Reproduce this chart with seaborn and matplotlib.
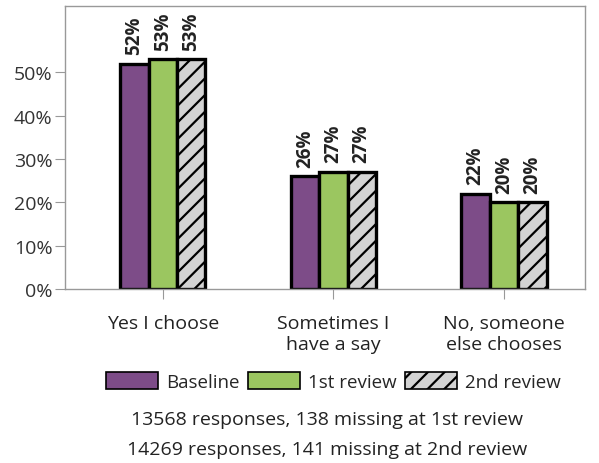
import matplotlib
matplotlib.use("Agg")
import matplotlib.pyplot as plt
import seaborn as sns
import pandas as pd
from matplotlib.patches import Patch

categories = ["Yes I choose", "Sometimes I\nhave a say", "No, someone\nelse chooses"]
series = ["Baseline", "1st review", "2nd review"]
baseline = [52, 26, 22]
review1 = [53, 27, 20]
review2 = [53, 27, 20]
yticks = [0, 10, 20, 30, 40, 50]
notes = ["13568 responses, 138 missing at 1st review",
         "14269 responses, 141 missing at 2nd review"]

colors = ["#7d4c88", "#9bc660", "#d3d3d3"]
hatches = ["", "", "//"]

rows = []
for s, vals in zip(series, [baseline, review1, review2]):
    for c, v in zip(categories, vals):
        rows.append({"cat": c, "series": s, "val": v})
df = pd.DataFrame(rows)

sns.set_style("white")
plt.rcParams['font.family'] = ['Open Sans', 'DejaVu Sans']
plt.rcParams['hatch.linewidth'] = 1.6

fig = plt.figure(figsize=(5.99, 4.64), dpi=100)
ax = fig.add_axes([0.1085, 0.375, 0.868, 0.61])

sns.barplot(data=df, x="cat", y="val", hue="series", order=categories,
            hue_order=series, palette=colors, width=0.5, gap=0,
            edgecolor="black", linewidth=2.4, saturation=1, ax=ax, legend=False)

for i, cont in enumerate(ax.containers):
    for bar in cont:
        bar.set_hatch(hatches[i])
    ax.bar_label(cont, labels=[f"{int(v)}%" for v in cont.datavalues],
                 rotation=90, padding=7, fontsize=13.5, fontweight="bold",
                 color="#222222")

ax.set_ylim(0, 65.3)
ax.set_xlim(-0.573, 2.475)
ax.set_yticks(yticks)
ax.set_yticklabels([f"{t}%" for t in yticks], fontsize=14, color="#333333")
ax.tick_params(axis="x", labelsize=14, colors="#333333", length=7, color="#999999",
               direction="out", pad=11)
ax.tick_params(axis="y", length=7, color="#999999", direction="out", left=True, pad=2)
ax.tick_params(axis="x", bottom=True)
for lbl in ax.get_xticklabels():
    lbl.set_color("#222222")
    lbl.set_linespacing(1.2)
ax.set_xlabel("")
ax.set_ylabel("")
for sp in ax.spines.values():
    sp.set_color("#999999")
    sp.set_linewidth(1)

handles = [Patch(facecolor=colors[i], edgecolor="black", hatch=hatches[i], linewidth=1.2)
           for i in range(3)]
fig.legend(handles, series, loc="center", bbox_to_anchor=(0.556, 0.175), ncol=3,
           frameon=False, fontsize=13.5, handlelength=2.8, handleheight=1.0,
           columnspacing=0.45, handletextpad=0.4)

fig.text(0.546, 0.094, notes[0], ha="center", va="center", fontsize=14, color="#222222")
fig.text(0.546, 0.031, notes[1], ha="center", va="center", fontsize=14, color="#222222")

fig.savefig("out.png", dpi=100)
